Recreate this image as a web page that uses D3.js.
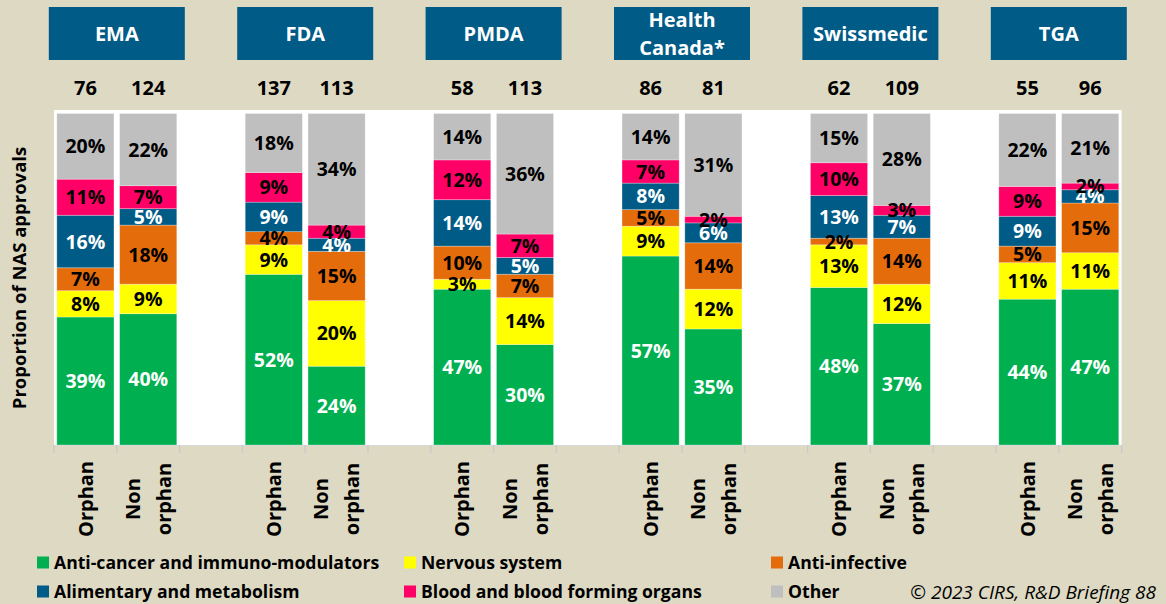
<!DOCTYPE html>
<html>
<head>
<meta charset="utf-8">
<script src="https://cdn.jsdelivr.net/npm/d3@7"></script>
<style>
  html, body { margin: 0; padding: 0; background: #ddd9c3; }
  svg { display: block; font-family: "Open Sans", Lato, sans-serif; }
</style>
</head>
<body>
<svg id="chart" width="1166" height="604"></svg>
<script>
// agencies and the two approval groups shown under each one
var agencies = ["EMA", "FDA", "PMDA", "Health Canada*", "Swissmedic", "TGA"];
var approvalTypes = ["Orphan", "Non orphan"];
var orphanCounts = [76, 137, 58, 86, 62, 55];
var nonOrphanCounts = [124, 113, 113, 81, 109, 96];

// percentages, order: EMA orphan, EMA non orphan, FDA orphan, ...
var antiCancer    = [39, 40, 52, 24, 47, 30, 57, 35, 48, 37, 44, 47];
var nervous       = [8, 9, 9, 20, 3, 14, 9, 12, 13, 12, 11, 11];
var antiInfective = [7, 18, 4, 15, 10, 7, 5, 14, 2, 14, 5, 15];
var alimentary    = [16, 5, 9, 4, 14, 5, 8, 6, 13, 7, 9, 4];
var blood         = [11, 7, 9, 4, 12, 7, 7, 2, 10, 3, 9, 2];
var other         = [20, 22, 18, 34, 14, 36, 14, 31, 15, 28, 22, 21];

var seriesNames = ["Anti-cancer and immuno-modulators", "Nervous system", "Anti-infective",
                   "Alimentary and metabolism", "Blood and blood forming organs", "Other"];
var seriesValues = [antiCancer, nervous, antiInfective, alimentary, blood, other];
var colors = ["#00b050", "#ffff00", "#e46c0a", "#005b86", "#ff0066", "#bfbfbf"];
var labelColors = ["#fff", "#000", "#000", "#fff", "#000", "#000"];

var svg = d3.select("#chart");
var plotTop = 110, plotBottom = 445, plotLeft = 54, plotRight = 1121.6;

// slots: orphan, non orphan, then an empty spacer between agencies
var slots = [];
var rows = [];
agencies.forEach(function(a, i) {
  approvalTypes.forEach(function(t, j) {
    var key = a + "|" + t;
    slots.push(key);
    var row = { key: key, agency: a, type: t, n: j == 0 ? orphanCounts[i] : nonOrphanCounts[i] };
    seriesNames.forEach(function(s, k) { row[s] = seriesValues[k][i * 2 + j]; });
    rows.push(row);
  });
  if (i < agencies.length - 1) slots.push(a + "|gap");
});

var x = d3.scaleBand().domain(slots).range([plotLeft, plotRight])
  .paddingInner(0.09).paddingOuter(0.045);
var y = d3.scaleLinear().domain([0, 1]).range([plotBottom, 113.5]);

var stacked = d3.stack().keys(seriesNames).offset(d3.stackOffsetExpand)(rows);

// white plot area
svg.append("rect")
  .attr("x", plotLeft).attr("y", plotTop)
  .attr("width", plotRight - plotLeft).attr("height", plotBottom - plotTop)
  .attr("fill", "#fff");

// bars
var layers = svg.append("g").selectAll("g").data(stacked).enter().append("g")
  .attr("fill", function(d, i) { return colors[i]; });

layers.selectAll("rect").data(function(d) { return d; }).enter().append("rect")
  .attr("x", function(d) { return x(d.data.key); })
  .attr("width", x.bandwidth())
  .attr("y", function(d) { return y(d[1]); })
  .attr("height", function(d) { return y(d[0]) - y(d[1]); })
  .attr("stroke", "rgba(255,255,255,0.35)")
  .attr("stroke-width", 0.8);

// segment labels
stacked.forEach(function(layer, i) {
  svg.append("g").selectAll("text").data(layer).enter().append("text")
    .attr("x", function(d) { return x(d.data.key) + x.bandwidth() / 2; })
    .attr("y", function(d) { return (y(d[0]) + y(d[1])) / 2; })
    .attr("dy", "0.36em")
    .attr("text-anchor", "middle")
    .attr("font-size", 19.5).attr("font-weight", "bold")
    .attr("fill", labelColors[i])
    .text(function(d) { return d.data[layer.key] + "%"; });
});

// x axis ticks at slot edges
var step = x.step();
var edges = slots.map(function(s) { return x(s) - (step - x.bandwidth()) / 2; });
edges.push(plotRight);
var axis = svg.append("g");
axis.append("line")
  .attr("x1", plotLeft).attr("x2", plotRight)
  .attr("y1", plotBottom + 0.5).attr("y2", plotBottom + 0.5)
  .attr("stroke", "#d9d9d9");
axis.selectAll("line.tick").data(edges).enter().append("line")
  .attr("class", "tick")
  .attr("x1", function(d) { return d; }).attr("x2", function(d) { return d; })
  .attr("y1", plotBottom).attr("y2", plotBottom + 8)
  .attr("stroke", "#c8c8c8").attr("stroke-width", 1.2);

// category labels, rotated
var catLabels = svg.append("g").selectAll("text").data(rows).enter().append("text")
  .attr("transform", function(d) {
    return "translate(" + (x(d.key) + x.bandwidth() / 2) + ",499) rotate(-90)";
  })
  .attr("text-anchor", "middle")
  .attr("font-size", 20).attr("font-weight", "bold").attr("fill", "#000");
catLabels.each(function(d) {
  var words = d.type.split(" ");
  var t = d3.select(this);
  words.forEach(function(w, i) {
    t.append("tspan").attr("x", 0)
      .attr("y", (i - (words.length - 1) / 2) * 31)
      .attr("dy", "0.36em")
      .text(i == 0 ? w : w.toLowerCase());
  });
});

// counts above bars
svg.append("g").selectAll("text").data(rows).enter().append("text")
  .attr("x", function(d) { return x(d.key) + x.bandwidth() / 2; })
  .attr("y", 88).attr("dy", "0.36em")
  .attr("text-anchor", "middle")
  .attr("font-size", 20).attr("font-weight", "bold").attr("fill", "#000")
  .text(function(d) { return d.n; });

// agency header boxes
var headers = svg.append("g").selectAll("g").data(agencies).enter().append("g")
  .attr("transform", function(a) {
    var cx = (x(a + "|Orphan") + x(a + "|Non orphan") + x.bandwidth()) / 2;
    return "translate(" + cx + ",0)";
  });
headers.append("rect")
  .attr("x", -68).attr("y", 7).attr("width", 136).attr("height", 53)
  .attr("fill", "#005b86");
headers.each(function(a) {
  var words = a.split(" ");
  var g = d3.select(this);
  words.forEach(function(w, i) {
    g.append("text")
      .attr("x", 0).attr("y", 34 + (i - (words.length - 1) / 2) * 28)
      .attr("dy", "0.36em").attr("text-anchor", "middle")
      .attr("font-size", 20).attr("font-weight", "bold").attr("fill", "#fff")
      .text(w);
  });
});

// y axis title
svg.append("text")
  .attr("transform", "translate(19,278) rotate(-90)")
  .attr("text-anchor", "middle").attr("dy", "0.36em")
  .attr("font-size", 18.5).attr("font-weight", "bold").attr("fill", "#000")
  .text("Proportion of NAS approvals");

// legend: 3 columns, 2 rows
var legendCols = [37, 404, 771];
var legendRows = [563, 592];
var legend = svg.append("g").selectAll("g").data(seriesNames).enter().append("g")
  .attr("transform", function(d, i) {
    return "translate(" + legendCols[i % 3] + "," + legendRows[Math.floor(i / 3)] + ")";
  });
legend.append("rect")
  .attr("x", 0).attr("y", -6.5).attr("width", 12).attr("height", 12)
  .attr("fill", function(d, i) { return colors[i]; });
legend.append("text")
  .attr("x", 17).attr("y", 0).attr("dy", "0.36em")
  .attr("font-size", 17.6).attr("font-weight", "bold").attr("fill", "#000")
  .text(function(d) { return d; });

svg.append("text")
  .attr("x", 1156).attr("y", 592).attr("dy", "0.36em")
  .attr("text-anchor", "end")
  .attr("font-size", 19).attr("font-style", "italic").attr("fill", "#000")
  .text("\u00a9 2023 CIRS, R&D Briefing 88");
</script>
</body>
</html>
